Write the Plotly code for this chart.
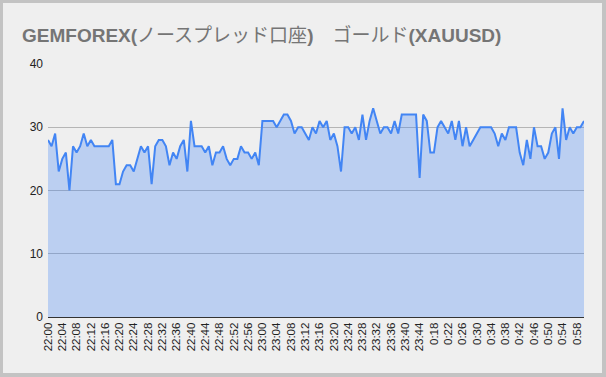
import plotly.graph_objects as go

# categories: 22:00-23:47, then 0:18-1:00
times = [f"{22 + m // 60}:{m % 60:02d}" for m in range(0, 108)] + \
        [f"{m // 60}:{m % 60:02d}" for m in range(18, 61)]

spread = [
    28, 27, 29, 23, 25, 26, 20, 27, 26, 27,
    29, 27, 28, 27, 27, 27, 27, 27, 28, 21,
    21, 23, 24, 24, 23, 25, 27, 26, 27, 21,
    27, 28, 28, 27, 24, 26, 25, 27, 28, 23,
    31, 27, 27, 27, 26, 27, 24, 26, 26, 27,
    25, 24, 25, 25, 27, 26, 26, 25, 26, 24,
    31, 31, 31, 31, 30, 31, 32, 32, 31, 29,
    30, 30, 29, 28, 30, 29, 31, 30, 31, 28,
    29, 27, 23, 30, 30, 29, 30, 28, 32, 28,
    31, 33, 31, 29, 30, 30, 29, 31, 29, 32,
    32, 32, 32, 32, 22, 32, 31, 26, 26, 30,
    31, 30, 29, 31, 28, 31, 27, 30, 27, 28,
    29, 30, 30, 30, 30, 29, 27, 29, 28, 30,
    30, 30, 26, 24, 28, 25, 30, 27, 27, 25,
    26, 29, 30, 25, 33, 28, 30, 29, 30, 30,
    31,
]

tick_labels = times[::4]
y_ticks = [0, 10, 20, 30, 40]

title_html = "<b>GEMFOREX(</b>ノースプレッド口座<b>)</b>　ゴールド<b>(XAUUSD)</b>"

W, H = 606, 377
L, R, T, B = 48, 22, 64, 60
pw, ph = W - L - R, H - T - B

fig = go.Figure()
fig.add_trace(go.Scatter(
    x=times, y=spread, mode="lines",
    line=dict(color="#4285f4", width=2),
    fill="tozeroy", fillcolor="rgba(66,133,244,0.3)",
    hoverinfo="skip",
))

# inner light panel over grey frame
x0 = (3 - L) / pw
x1 = (602 - L) / pw
y0 = (H - B - 373) / ph
y1 = (H - B - 3) / ph
fig.add_shape(type="rect", xref="paper", yref="paper",
              x0=x0, x1=x1, y0=y0, y1=y1,
              fillcolor="#efefef", line=dict(width=0), layer="below")

fig.update_layout(
    width=W, height=H,
    margin=dict(l=L, r=R, t=T, b=B, pad=0),
    paper_bgcolor="#c3c3c3",
    plot_bgcolor="#efefef",
    showlegend=False,
    hovermode=False,
    title=dict(text=title_html, x=22 / W, xanchor="left", xref="container",
               y=1 - 35 / H, yanchor="middle", yref="container",
               font=dict(family="Liberation Sans, Arial, Noto Sans CJK JP", size=19, color="#757575")),
    font=dict(family="Liberation Sans, Arial, sans-serif", color="#222222"),
)
fig.update_xaxes(
    type="category", tickmode="array", tickvals=tick_labels, ticktext=tick_labels,
    tickangle=-90, tickfont=dict(size=11.5, color="#222222"),
    showgrid=False, showline=True, linecolor="#333333", linewidth=1,
    ticks="", range=[0, len(times) - 1], zeroline=False,
)
fig.update_yaxes(
    range=[0, 40], tickvals=y_ticks, tickfont=dict(size=12, color="#222222"),
    showgrid=True, gridcolor="#b5b5b5", gridwidth=1, zeroline=False,
    ticks="", showline=False, ticklabelstandoff=4,
)

fig.write_html("out.html", config={"displayModeBar": False},
               post_script="document.body.style.margin='0';document.body.style.overflow='hidden';")
